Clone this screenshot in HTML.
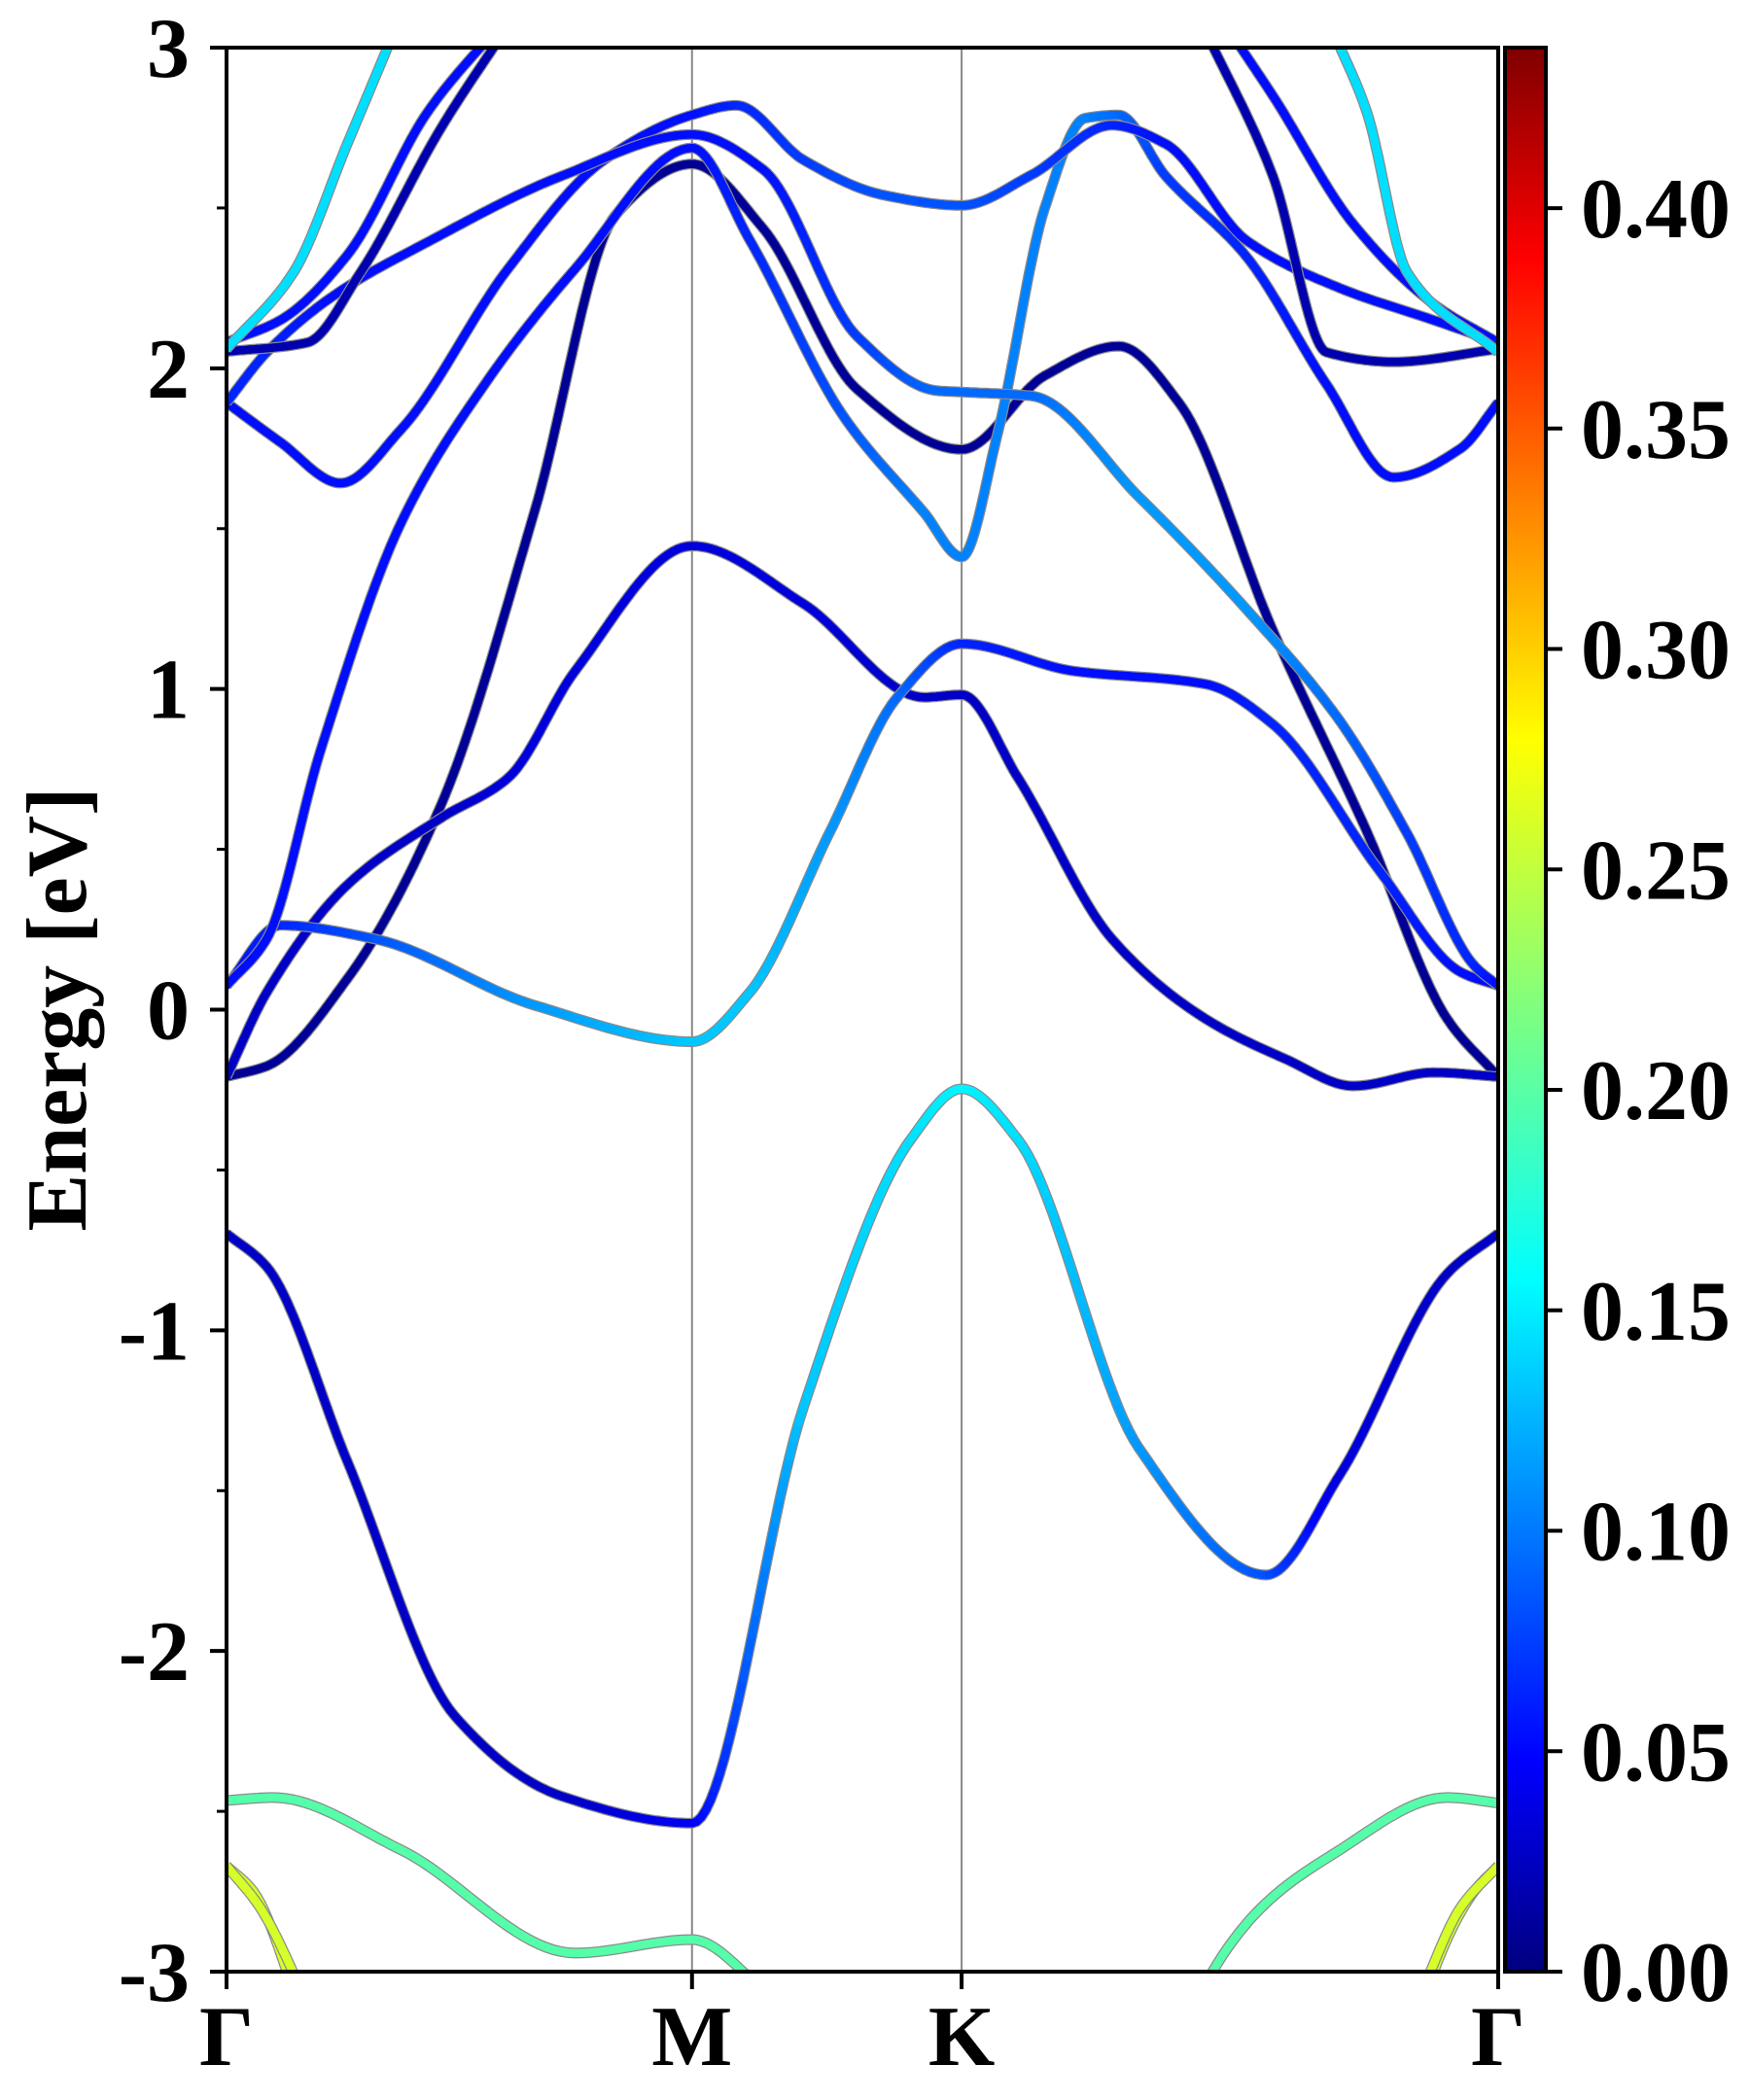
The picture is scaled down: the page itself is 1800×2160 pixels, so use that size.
<!DOCTYPE html>
<html><head><meta charset="utf-8"><style>
html,body{margin:0;padding:0;background:#fff}
svg{display:block}
text{font-family:"Liberation Serif","Times New Roman",serif;font-weight:bold;fill:#000}
</style></head><body>
<svg id="chart" width="1800" height="2160" viewBox="0 0 1800 2160" xmlns="http://www.w3.org/2000/svg">
<defs><clipPath id="clip"><rect x="233" y="49" width="1308" height="1979"/></clipPath>
<linearGradient id="jet" x1="0" y1="1" x2="0" y2="0">
<stop offset="0" stop-color="#00007f"/><stop offset="0.11" stop-color="#0000ff"/><stop offset="0.36" stop-color="#00ffff"/><stop offset="0.5" stop-color="#7fff7f"/><stop offset="0.64" stop-color="#ffff00"/><stop offset="0.89" stop-color="#ff0000"/><stop offset="1" stop-color="#7f0000"/></linearGradient></defs>
<g id="vlines"></g>
<g id="bands" clip-path="url(#clip)"></g>
<g id="axes"></g>
</svg>
<script>
// path coordinate (0..948 along Γ-M-K-Γ), energies (eV), weights
const kTicks=[0,347,548,948];
const kLabels=["Γ","M","K","Γ"];
const eTicks=[-3,-2,-1,0,1,2,3];
const cbTicks=[0,0.05,0.10,0.15,0.20,0.25,0.30,0.35,0.40];
const vmax=0.4364;
const bandK=[
 [0,35,130,260,347,390,420],
 [720,735,830,910,948],
 [0,20,45,55],[0,25,60,70],[890,900,930,948],[875,887,920,948],
 [0,30,90,170,250,347,430,510,548,590,680,775,830,910,948],
 [0,30,90,160,230,290,347,400,470,548,610,665,710,780,850,910,948],
 [0,30,90,160,210,260,347,430,520,548,590,660,730,790,840,900,948],
 [0,40,110,230,347,390,450,500,548,630,730,780,860,920,948],
 [0,30,70,130,190,260,347,390,460,520,548,575,610,640,665,700,760,820,870,920,948],
 [0,40,85,130,210,280,347,380,430,490,548,600,660,700,760,830,900,948],
 [0,30,80,150,250,347,400,470,530,548,600,680,760,830,880,930,948],
 [0,40,90,150,210],[0,60,100,160,215],[0,50,90,130],
 [740,780,840,900,948],[730,780,820,870,948],[825,850,880,948]
];
const bandE=[
 [-2.466,-2.457,-2.62,-2.942,-2.9,-3.02,-3.2],
 [-3.2,-3.0,-2.62,-2.457,-2.474],
 [-2.67,-2.75,-3.0,-3.15],[-2.67,-2.8,-3.1,-3.2],[-3.15,-3.0,-2.75,-2.67],[-3.2,-3.1,-2.8,-2.67],
 [-0.698,-0.802,-1.408,-2.202,-2.453,-2.537,-1.241,-0.405,-0.247,-0.405,-1.366,-1.763,-1.45,-0.823,-0.698],
 [-0.209,-0.176,0.096,0.639,1.559,2.478,2.637,2.436,1.935,1.747,1.977,2.069,1.893,1.183,0.556,-0.029,-0.209],
 [-0.209,0.054,0.389,0.598,0.723,1.057,1.446,1.266,0.974,0.982,0.723,0.221,-0.029,-0.155,-0.238,-0.196,-0.209],
 [0.075,0.263,0.221,0.013,-0.1,0.054,0.556,0.974,1.141,1.057,1.015,0.89,0.43,0.117,0.075],
 [0.075,0.221,0.807,1.517,1.935,2.311,2.687,2.4,1.85,1.55,1.412,1.8,2.5,2.78,2.79,2.6,2.35,1.95,1.66,1.75,1.893],
 [1.893,1.77,1.642,1.809,2.311,2.645,2.79,2.82,2.65,2.54,2.508,2.603,2.758,2.7,2.4,2.25,2.15,2.08],
 [1.893,2.05,2.227,2.394,2.6,2.729,2.62,2.1,1.93,1.926,1.914,1.6,1.25,0.9,0.55,0.138,0.075],
 [2.081,2.15,2.353,2.8,3.1],[2.052,2.08,2.3,2.75,3.1],[2.06,2.3,2.7,3.1],
 [3.1,2.85,2.45,2.2,2.08],[3.05,2.6,2.05,2.02,2.06],[3.05,2.8,2.3,2.05]
];
const bandW=[
 [0.2,0.2,0.2,0.2,0.2,0.2,0.2],[0.2,0.2,0.2,0.2,0.2],
 [0.255,0.255,0.255,0.255],[0.255,0.255,0.255,0.255],[0.25,0.25,0.25,0.25],[0.255,0.255,0.255,0.255],
 [0.03,0.03,0.03,0.03,0.03,0.05,0.14,0.15,0.16,0.15,0.12,0.09,0.04,0.03,0.03],
 [0.01,0.01,0.01,0.01,0.01,0.01,0.01,0.01,0.01,0.01,0.01,0.01,0.01,0.01,0.01,0.01,0.01],
 [0.03,0.03,0.03,0.03,0.04,0.04,0.04,0.04,0.03,0.03,0.03,0.03,0.03,0.03,0.03,0.03,0.03],
 [0.06,0.07,0.09,0.12,0.14,0.14,0.12,0.1,0.07,0.06,0.06,0.07,0.07,0.06,0.06],
 [0.06,0.06,0.06,0.06,0.06,0.06,0.06,0.07,0.09,0.11,0.11,0.11,0.11,0.11,0.1,0.08,0.07,0.06,0.06,0.06,0.06],
 [0.06,0.06,0.06,0.06,0.06,0.06,0.06,0.07,0.08,0.09,0.09,0.08,0.07,0.06,0.06,0.06,0.06,0.06],
 [0.07,0.07,0.06,0.06,0.06,0.06,0.06,0.08,0.1,0.1,0.1,0.12,0.12,0.1,0.08,0.07,0.06],
 [0.06,0.06,0.06,0.06,0.06],[0.02,0.02,0.02,0.02,0.02],[0.15,0.15,0.15,0.15],
 [0.06,0.06,0.06,0.06,0.06],[0.02,0.02,0.02,0.02,0.02],[0.15,0.15,0.15,0.15]
];
const X0=233,X1=1541,Y0=49,Y1=2028;
function xs(k){return X0+k/948*(X1-X0);}
function ys(e){return Y1-(e+3)/6*(Y1-Y0);}
function jet(v){let t=Math.max(0,Math.min(1,v/vmax));
 function c(x){return Math.max(0,Math.min(1,1.5-Math.abs(x)));}
 const r=c(4*t-3),g=c(4*t-2),b=c(4*t-1);
 return `rgb(${Math.round(r*255)},${Math.round(g*255)},${Math.round(b*255)})`;}
// monotone cubic (Fritsch-Carlson) slopes
function slopes(x,y){const n=x.length,d=[],m=new Array(n).fill(0);
 for(let i=0;i<n-1;i++)d.push((y[i+1]-y[i])/(x[i+1]-x[i]));
 m[0]=d[0];m[n-1]=d[n-2];
 for(let i=1;i<n-1;i++){if(d[i-1]*d[i]<=0)m[i]=0;else{const w1=2*(x[i+1]-x[i])+(x[i]-x[i-1]),w2=(x[i+1]-x[i])+2*(x[i]-x[i-1]);m[i]=(w1+w2)/(w1/d[i-1]+w2/d[i]);}}
 return m;}
const NS="http://www.w3.org/2000/svg";
const bandsG=document.getElementById('bands');
function mk(tag,attrs,parent){const e=document.createElementNS(NS,tag);for(const a in attrs)e.setAttribute(a,attrs[a]);parent.appendChild(e);return e;}
bandK.forEach((ks,bi)=>{
 const es=bandE[bi],ws=bandW[bi];
 const m=slopes(ks,es);
 const pts=[];
 for(let i=0;i<ks.length-1;i++){
  const h=ks[i+1]-ks[i];
  for(let s=0;s<24;s++){const t=s/24,t2=t*t,t3=t2*t;
   const e=(2*t3-3*t2+1)*es[i]+(t3-2*t2+t)*h*m[i]+(-2*t3+3*t2)*es[i+1]+(t3-t2)*h*m[i+1];
   pts.push([xs(ks[i]+h*t),ys(e),ws[i]+(ws[i+1]-ws[i])*t]);}
 }
 const L=ks.length-1;pts.push([xs(ks[L]),ys(es[L]),ws[L]]);
 const g=mk('g',{},bandsG);
 
 
 mk('polyline',{points:pts.map(p=>p[0].toFixed(1)+','+p[1].toFixed(1)).join(' '),fill:'none',stroke:'#8a8a8a','stroke-width':11,'stroke-linejoin':'round'},g);
 for(let i=0;i<pts.length-1;i++){
  mk('line',{x1:pts[i][0].toFixed(1),y1:pts[i][1].toFixed(1),x2:pts[i+1][0].toFixed(1),y2:pts[i+1][1].toFixed(1),stroke:jet((pts[i][2]+pts[i+1][2])/2),'stroke-width':8.5,'stroke-linecap':'round'},g);
 }
});
const ax=document.getElementById('axes');
const vl=document.getElementById('vlines');
[1,2].forEach(i=>{const l=mk('line',{x1:xs(kTicks[i]),x2:xs(kTicks[i]),y1:Y0,y2:Y1,stroke:'#888','stroke-width':2},vl);
 
 });
const frame=mk('rect',{x:X0,y:Y0,width:X1-X0,height:Y1-Y0,fill:'none',stroke:'#000','stroke-width':4},ax);


const FF='"Liberation Serif","Times New Roman",serif';
eTicks.forEach(e=>{const y=ys(e);
 mk('line',{x1:X0-17,x2:X0,y1:y,y2:y,stroke:'#000','stroke-width':4},ax);
 const t=mk('text',{x:X0-38,y:y+30,'font-size':88,'text-anchor':'end','font-family':FF,'font-weight':'bold'},ax);t.textContent=e;
 
 });
for(let e=-2.5;e<3;e+=1){const y=ys(e);mk('line',{x1:X0-10,x2:X0,y1:y,y2:y,stroke:'#000','stroke-width':3},ax);}
kTicks.forEach((k,i)=>{const x=xs(k);
 mk('line',{x1:x,x2:x,y1:Y1,y2:Y1+18,stroke:'#000','stroke-width':4},ax);
 const t=mk('text',{x:x,y:2124,'font-size':88,'text-anchor':'middle','font-family':FF,'font-weight':'bold'},ax);t.textContent=kLabels[i];
 
 });
const yt=mk('text',{x:0,y:0,'font-size':88,'text-anchor':'middle','font-family':FF,'font-weight':'bold',transform:'translate(88,1038) rotate(-90)'},ax);
yt.textContent='Energy [eV]';


const cb=mk('rect',{x:1548,y:Y0,width:42,height:Y1-Y0,fill:'url(#jet)',stroke:'#000','stroke-width':4},ax);


cbTicks.forEach(v=>{const y=Y1-v/vmax*(Y1-Y0);
 mk('line',{x1:1590,x2:1607,y1:y,y2:y,stroke:'#000','stroke-width':4},ax);
 const t=mk('text',{x:1626,y:y+30,'font-size':88,'font-family':FF,'font-weight':'bold'},ax);t.textContent=v.toFixed(2);
 
 });
</script>
</body></html>
